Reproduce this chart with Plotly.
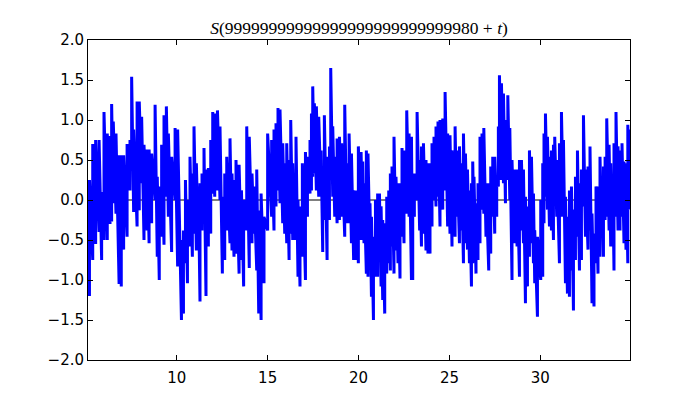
import plotly.graph_objects as go

# S(T + t): positions of the upward jumps (zeros) with the value just before and just after each jump
t_start, s_start = 5.12, -0.1
t_end, s_end = 34.95, 0.55

t_zero = [
    5.20, 5.38, 5.54, 5.73, 5.87, 6.00, 6.18, 6.33, 6.42, 6.51, 6.66, 6.83, 6.95, 7.08, 7.27, 7.43, 7.52, 7.63,
    7.82, 7.94, 8.07, 8.20, 8.37, 8.48, 8.62, 8.81, 8.93, 9.04, 9.17, 9.30, 9.43, 9.54, 9.72, 9.91, 10.05,
    10.26, 10.37, 10.48, 10.59, 10.73, 10.86, 10.95, 11.08, 11.19, 11.28, 11.39, 11.50, 11.61, 11.74, 11.87,
    11.98, 12.09, 12.24, 12.38, 12.51, 12.64, 12.75, 12.93, 13.04, 13.15, 13.26, 13.43, 13.56, 13.68, 13.85,
    13.99, 14.14, 14.25, 14.40, 14.51, 14.64, 14.80, 15.00,
    15.22, 15.35, 15.46, 15.57, 15.68, 15.83, 15.94, 16.05, 16.18, 16.27, 16.38, 16.49, 16.56, 16.67, 16.78,
    16.91, 17.08, 17.19, 17.33, 17.41, 17.48, 17.57, 17.68, 17.81, 17.94, 18.03, 18.12, 18.27, 18.40, 18.47,
    18.58, 18.69, 18.82, 18.95, 19.07, 19.24, 19.35, 19.48, 19.61, 19.73, 19.86, 19.99,
    20.14, 20.23, 20.30, 20.43, 20.52, 20.63, 20.71, 20.82, 20.93, 21.05, 21.15, 21.24, 21.33, 21.44, 21.55,
    21.66, 21.75, 21.84, 21.95, 22.06, 22.17, 22.28, 22.39, 22.50, 22.65, 22.78, 22.91, 22.98, 23.07, 23.22,
    23.36, 23.46, 23.57, 23.71, 23.82, 23.93, 24.04, 24.15, 24.26, 24.37, 24.48, 24.63, 24.76, 24.90,
    25.03, 25.14, 25.31, 25.40, 25.55, 25.66, 25.77, 25.88, 25.99, 26.10, 26.21, 26.28, 26.35, 26.46, 26.57,
    26.68, 26.79, 26.89, 27.01, 27.16, 27.27, 27.38, 27.49, 27.60, 27.69, 27.75, 27.86, 27.97, 28.08, 28.21,
    28.32, 28.44, 28.57, 28.72, 28.85, 28.96, 29.07, 29.18, 29.29, 29.40, 29.51, 29.62, 29.69, 29.84,
    30.02, 30.13, 30.20, 30.28, 30.39, 30.50, 30.61, 30.72, 30.79, 30.90, 31.05, 31.16, 31.27, 31.38, 31.49,
    31.60, 31.71, 31.82, 31.93, 32.04, 32.15, 32.26, 32.37, 32.48, 32.62, 32.73, 32.84, 32.95, 33.06, 33.17,
    33.28, 33.38, 33.47, 33.56, 33.65, 33.78, 33.87, 33.98, 34.05, 34.16, 34.27, 34.38, 34.49, 34.60, 34.71,
    34.81, 34.90,
]

s_before = [
    -1.2, -0.75, -0.55, -0.4, -0.75, -0.5, -0.5, -0.3, -0.27, -0.04, -0.17, -1.05, -1.08, -0.62, -0.46, 0.12, 0.38, -0.15,
    -0.33, -0.13, 0.21, -0.5, -0.38, -0.54, -0.29, 0.0, -0.71, -1.0, -0.46, -0.56, 0.04, -0.21, -0.65, 0.0, -0.83,
    -1.5, -1.42, -0.79, -1.04, -0.58, -0.71, -0.42, -0.63, -0.54, -1.27, -0.38, -0.21, -1.2, -0.58, -0.42,
    0.08, 0.04, 0.12, 0.0, -0.92, -0.75, -0.38, -0.54, -0.63, -0.71, -0.67, -0.92, -0.75, -1.08, -0.38,
    -0.85, -0.54, -0.42, -0.88, -1.42, -1.5, -1.04, -0.38,
    -0.21, -0.38, -0.08, 0.12, -0.04, -0.29, -0.42, -0.54, -0.75, -0.42, -0.5, -0.5, -0.5, -0.96, -1.08,
    -0.71, -1.0, -0.21, 0.08, 0.12, 0.29, 0.33, 0.12, 0.04, 0.04, -0.65, -0.25, -0.75, -0.25, 0.25,
    0.04, -0.21, -0.29, -0.25, -0.21, -0.46, -0.29, -0.29, -0.54, -0.75, -0.75, -0.79,
    -0.5, -0.46, -0.54, -0.92, -0.96, -0.67, -1.21, -1.5, -0.96, -0.96, -0.75, -1.08, -1.25, -1.42, -0.92,
    -0.79, -0.88, -0.58, -0.92, -0.63, -0.79, -0.98, -0.46, -0.54, -0.17, -0.21, -1.0, -1.0, -0.21, 0.0,
    -0.38, -0.58, -0.42, -0.63, -0.67, -0.67, -0.33, 0.0, -0.08, 0.04, -0.33, -0.12, 0.12, -0.33,
    -0.42, -0.58, -0.46, -0.21, -0.54, -0.38, -0.79, -0.54, -0.62, -0.79, -1.08, -0.79, -0.38, -0.92, -0.75,
    -0.54, -0.12, -0.17, -0.46, -0.88, -0.67, -0.21, -0.42, -0.21, 0.17, 0.25, 0.25, 0.21, -0.04, 0.25,
    0.0, -1.0, -0.54, -0.58, -0.96, -0.38, -0.54, -1.29, -1.08, -0.71, -0.54, -0.79, -1.04, -1.46,
    -1.0, -0.96, -0.29, 0.04, -0.12, -0.33, -0.38, -0.5, -0.04, -0.21, -0.79, -0.21, -0.21, -1.04, -1.17,
    -1.21, -0.88, -1.38, -0.75, -0.46, -0.88, -0.75, -0.08, -0.46, -0.62, -0.38, -1.29, -1.33, -0.79, -0.92,
    -0.71, -0.46, -0.71, -0.25, -0.21, -0.38, -0.58, -0.58, -0.88, -0.21, -0.38, -0.38, -0.21, -0.54, -0.62,
    -0.79, -0.12,
]

s_after = [
    0.25, 0.7, 0.75, 0.75, 0.1, 1.1, 0.83, 0.8, 1.2, 0.98, 0.83, 0.56, 0.56, 0.56, 0.7, 0.75, 1.54, 0.88,
    1.23, 1.23, 1.04, 0.69, 0.63, 0.63, 0.58, 1.19, 0.29, 0.17, 0.69, 1.06, 1.17, 0.83, 0.54, 0.9, 0.88,
    -0.5, -0.38, 0.25, 0.0, 0.54, 0.33, 0.92, 0.46, 0.17, 0.21, 0.33, 0.65, 0.38, 0.4, 0.75,
    1.1, 1.08, 1.12, 0.92, 0.04, 0.33, 0.54, 0.77, 0.33, 0.25, 0.5, 0.44, 0.12, 0.0, 0.92,
    0.79, 0.33, 0.17, 0.38, -0.13, 0.08, -0.21, 0.83,
    0.75, 0.88, 0.96, 1.15, 1.13, 0.71, 0.46, 0.71, 0.5, 1.0, 0.46, -0.21, 0.79, 0.0, -0.08,
    0.46, 0.6, 0.54, 0.75, 1.08, 1.42, 1.21, 1.17, 1.04, 0.62, 0.25, 1.06, 0.54, 0.67, 1.65,
    0.92, 0.54, 0.77, 0.79, 0.71, 1.19, 0.46, 0.83, 0.58, 0.12, 0.12, 0.67,
    0.6, 0.48, 0.21, 0.62, 0.58, -0.04, -0.21, -0.46, 0.0, 0.08, 0.08, -0.08, -0.25, -0.29, 0.04,
    0.12, 0.33, 0.42, 0.79, 0.29, 0.21, 0.21, 0.65, 0.62, 1.12, 0.83, 0.79, 0.08, 0.33, 1.1,
    0.5, 0.67, 0.71, 0.5, 0.46, 0.46, 0.71, 0.79, 0.92, 0.98, 1.0, 1.02, 1.35, 0.83,
    0.81, 0.62, 0.92, 0.62, 0.67, 0.46, 0.83, 0.58, 0.38, 0.12, 0.21, 0.48, 0.29, -0.04, 0.21,
    0.79, 0.83, 0.9, 0.21, 0.21, 0.42, 0.54, 0.54, 0.21, 0.92, 1.56, 1.46, 1.33, 1.0, 1.31,
    0.9, 0.5, 0.38, 0.38, 0.5, 0.5, 0.38, 0.04, -0.08, 0.62, 0.54, 0.08, -0.38, -0.46,
    0.0, 0.46, 0.83, 1.08, 0.79, 0.54, 0.62, 0.69, 0.79, 0.5, 0.71, 1.1, 0.75, 0.04, -0.21,
    0.12, 0.17, -0.12, 0.29, 0.62, 0.21, 0.38, 1.06, 0.38, 0.42, 0.67, -0.17, -0.42, 0.17, 0.17,
    0.54, 0.17, 0.42, 0.54, 1.02, 0.69, 0.46, 0.29, 0.71, 1.1, 0.67, 0.62, 0.71, 0.48, 0.46,
    0.94, 0.88,
]

title_text = "<i>S</i>(99999999999999999999999999980 + <i>t</i>)"
x_ticks = [10, 15, 20, 25, 30]
y_ticks = [-2.0, -1.5, -1.0, -0.5, 0.0, 0.5, 1.0, 1.5, 2.0]

# sawtooth: value drops linearly between zeros, jumps up at each zero
xs = [t_start]
ys = [s_start]
for t, lo, hi in zip(t_zero, s_before, s_after):
    xs += [t, t]
    ys += [lo, hi]
xs.append(t_end)
ys.append(s_end)

fig = go.Figure()
fig.add_hline(y=0, line=dict(color="black", width=1), layer="below")
fig.add_trace(go.Scatter(x=xs, y=ys, mode="lines",
                         line=dict(color="#0000ff", width=3), showlegend=False))

axis_common = dict(
    showgrid=False, zeroline=False, showline=True, linecolor="black", linewidth=1,
    mirror="ticks", ticks="inside", ticklen=5, tickwidth=1, tickcolor="black",
    tickfont=dict(family="DejaVu Sans", size=15, color="black"),
)
fig.update_xaxes(range=[5.12, 34.93], tickvals=x_ticks, ticklabelstandoff=4, **axis_common)
fig.update_yaxes(range=[-2, 2], tickvals=y_ticks, tickformat=".1f", **axis_common)

# the page body adds an 8px offset, so margins are shifted to keep the plot area in place
fig.update_layout(
    width=700, height=400,
    margin=dict(l=80, r=78, t=32, b=48),
    paper_bgcolor="white", plot_bgcolor="white",
    title=dict(text=title_text, x=0.5, xref="paper", y=0.95, yanchor="middle",
               font=dict(family="Liberation Serif", size=17.5, color="black")),
)

fig.write_html("out.html")
